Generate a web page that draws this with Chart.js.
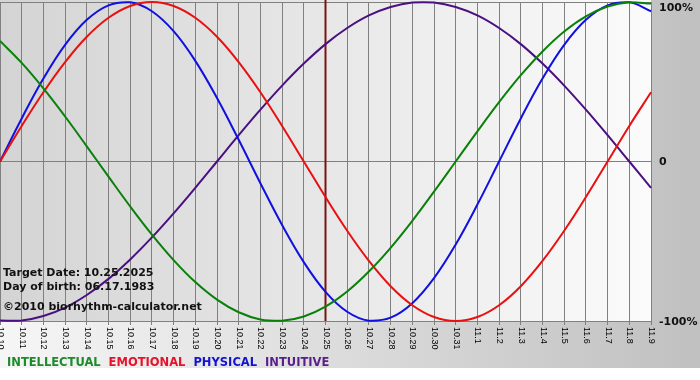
<!DOCTYPE html>
<html><head><meta charset="utf-8">
<script src="https://cdn.jsdelivr.net/npm/chart.js@4"></script>
<style>html,body{margin:0;padding:0;background:#fff;}#wrap{width:700px;height:380px;position:relative;}</style>
</head><body><div id="wrap"><canvas id="c" width="700" height="380"></canvas></div>
<script>
const dates = ['10.10','10.11','10.12','10.13','10.14','10.15','10.16','10.17','10.18','10.19','10.20','10.21','10.22','10.23','10.24','10.25','10.26','10.27','10.28','10.29','10.30','10.31','11.1','11.2','11.3','11.4','11.5','11.6','11.7','11.8','11.9'];
const intellectual = [0.756,0.618,0.458,0.282,0.095,-0.095,-0.282,-0.458,-0.618,-0.756,-0.866,-0.945,-0.990,-0.999,-0.972,-0.910,-0.815,-0.690,-0.541,-0.372,-0.189,0.000,0.189,0.372,0.541,0.690,0.815,0.910,0.972,0.999,0.990];
const emotional = [0.000,0.223,0.434,0.623,0.782,0.901,0.975,1.000,0.975,0.901,0.782,0.623,0.434,0.223,0.000,-0.223,-0.434,-0.623,-0.782,-0.901,-0.975,-1.000,-0.975,-0.901,-0.782,-0.623,-0.434,-0.223,0.000,0.223,0.434];
const physical = [0.000,0.270,0.520,0.731,0.888,0.979,0.998,0.942,0.817,0.631,0.398,0.136,-0.136,-0.398,-0.631,-0.817,-0.942,-0.998,-0.979,-0.888,-0.731,-0.520,-0.270,0.000,0.270,0.520,0.731,0.888,0.979,0.998,0.942];
const intuitive = [-0.997,-0.997,-0.969,-0.916,-0.837,-0.736,-0.614,-0.476,-0.325,-0.165,0.000,0.165,0.325,0.476,0.614,0.736,0.837,0.916,0.969,0.997,0.997,0.969,0.916,0.837,0.736,0.614,0.476,0.325,0.165,0.000,-0.165];
const yTickValues = [1, 0, -1];
const yTickLabels = ['100%', '0', '-100%'];
const targetDate = '10.25';
const infoLines = ['Target Date: 10.25.2025', 'Day of birth: 06.17.1983', '\u00A92010 biorhythm-calculator.net'];

const BOLD = 'bold 11px "DejaVu Sans", Verdana, sans-serif';
const LEGEND_FONT = 'bold 11.5px "DejaVu Sans", Verdana, sans-serif';

const bgPlugin = {
  id: 'bg',
  beforeDraw(chart) {
    const ctx = chart.ctx, ca = chart.chartArea;
    ctx.save();
    ctx.fillStyle = '#ffffff';
    ctx.fillRect(0, 0, chart.width, chart.height);
    const g = ctx.createLinearGradient(0, 0, chart.width, 0);
    g.addColorStop(0, '#f6f6f6');
    g.addColorStop(1, '#c0c0c0');
    ctx.fillStyle = g;
    ctx.fillRect(0, 0, chart.width, 368);
    const g2 = ctx.createLinearGradient(ca.left, 0, ca.right, 0);
    g2.addColorStop(0, '#d4d4d4');
    g2.addColorStop(1, '#fbfbfb');
    ctx.fillStyle = g2;
    ctx.fillRect(ca.left, 0, ca.right - ca.left, ca.bottom);
    ctx.restore();
  },
  beforeDatasetsDraw(chart) {
    const ctx = chart.ctx, ca = chart.chartArea, xs = chart.scales.x;
    const x = xs.getPixelForValue(dates.indexOf(targetDate));
    ctx.save();
    ctx.strokeStyle = '#7a1414';
    ctx.lineWidth = 2;
    ctx.beginPath();
    ctx.moveTo(x, ca.top - 2);
    ctx.lineTo(x, ca.bottom);
    ctx.stroke();
    ctx.restore();
  },
  afterDraw(chart) {
    const ctx = chart.ctx, ca = chart.chartArea, xs = chart.scales.x, ys = chart.scales.y;
    ctx.save();
    ctx.fillStyle = '#000';
    ctx.font = '9px "Liberation Sans", Arial, sans-serif';
    ctx.textAlign = 'left';
    ctx.textBaseline = 'middle';
    dates.forEach((d, i) => {
      const x = xs.getPixelForValue(i);
      ctx.save();
      ctx.translate(x + 0.5, ca.bottom + 6);
      ctx.rotate(Math.PI / 2);
      ctx.fillText(d, 0, 0);
      ctx.restore();
    });
    ctx.font = BOLD;
    ctx.fillStyle = '#111';
    yTickValues.forEach((v, i) => {
      const y = Math.max(ys.getPixelForValue(v) + 1, 8);
      ctx.fillText(yTickLabels[i], ca.right + 8, y);
    });
    ctx.textBaseline = 'alphabetic';
    const baselines = [276, 290, 310];
    infoLines.forEach((t, i) => ctx.fillText(t, 3, baselines[i]));
    ctx.font = LEGEND_FONT;
    let lx = 7;
    chart.data.datasets.forEach(ds => {
      ctx.fillStyle = ds.textColor;
      ctx.fillText(ds.label, lx, 366);
      lx += ctx.measureText(ds.label).width + 8;
    });
    ctx.restore();
  }
};

new Chart(document.getElementById('c').getContext('2d'), {
  type: 'line',
  data: {
    labels: dates,
    datasets: [
      { label: 'INTELLECTUAL', data: intellectual, borderColor: '#0a800a', textColor: '#1b8b2b' },
      { label: 'EMOTIONAL', data: emotional, borderColor: '#e81010', textColor: '#e8102a' },
      { label: 'PHYSICAL', data: physical, borderColor: '#1010e0', textColor: '#1414d0' },
      { label: 'INTUITIVE', data: intuitive, borderColor: '#4a1080', textColor: '#5a1e8c' }
    ]
  },
  options: {
    responsive: false,
    animation: false,
    devicePixelRatio: 1,
    layout: { padding: { top: 2, left: 0, right: 0, bottom: 0 } },
    elements: { point: { radius: 0 }, line: { borderWidth: 2, tension: 0.4 } },
    datasets: { line: { clip: false } },
    plugins: { legend: { display: false }, tooltip: { enabled: false } },
    scales: {
      x: {
        ticks: { display: false },
        grid: { color: '#808080', lineWidth: 1, drawTicks: true, tickLength: 4 },
        border: { display: false },
        afterFit(s) { s.height = 59; }
      },
      y: {
        position: 'right',
        min: -1, max: 1,
        ticks: { display: false, stepSize: 1 },
        grid: { color: '#808080', lineWidth: 1, drawTicks: false },
        border: { display: false },
        afterFit(s) { s.width = 49; }
      }
    }
  },
  plugins: [bgPlugin]
});
</script></body></html>
